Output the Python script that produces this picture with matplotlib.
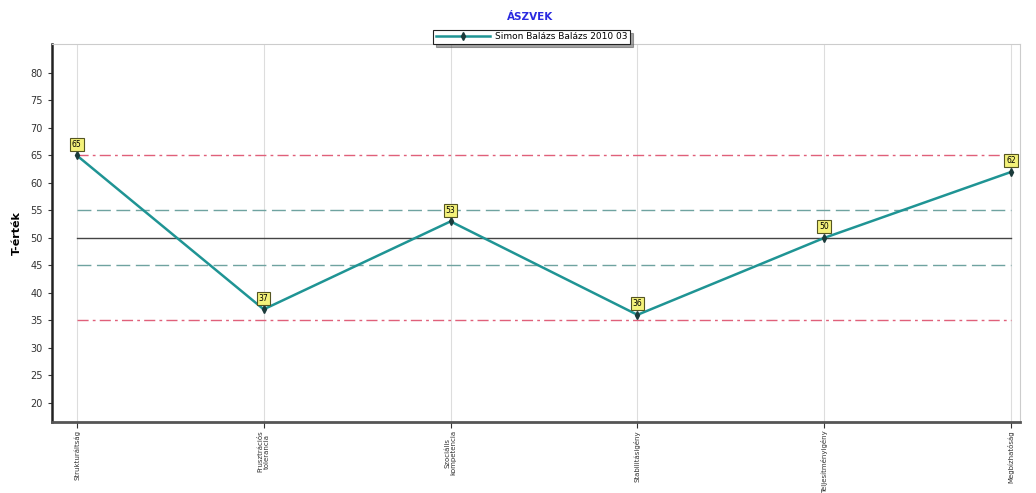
import numpy as np
import matplotlib.pyplot as plt

# Adatok
categories = ['Strukturáltság', 'Frusztrációs\ntolerancia', 'Szociális\nkompetencia',
              'Stabilitásigény', 'Teljesítményigény', 'Megbízhatóság']
values = [65, 37, 53, 36, 50, 62]
series_name = 'Simon Balázs Balázs 2010 03'
title = 'ÁSZVEK'
ylabel = 'T-érték'
yticks = list(range(20, 85, 5))

# Referenciavonalak: (érték, szín, vonalstílus)
ref_lines = [
    (65, '#e0607a', (0, (8, 3, 2, 3))),
    (35, '#e0607a', (0, (8, 3, 2, 3))),
    (55, '#6fa3a0', (0, (10, 4))),
    (45, '#6fa3a0', (0, (10, 4))),
    (50, '#444444', '-'),
]

x = np.arange(len(categories))

fig = plt.figure(figsize=(10.36, 4.93), dpi=100)
ax = fig.add_axes([0.050, 0.144, 0.935, 0.767])

for xi in x:
    ax.axvline(xi, color='#dddddd', linewidth=0.8, zorder=0)

for val, col, ls in ref_lines:
    ax.plot([x[0], x[-1]], [val, val], color=col, linestyle=ls, linewidth=1.0, zorder=1)

line, = ax.plot(x, values, color='#1f9494', linewidth=1.8, marker='d', markersize=4,
                markerfacecolor='#1b3b3b', markeredgecolor='#1b3b3b', zorder=3,
                label=series_name)

for xi, v in zip(x, values):
    ax.annotate(str(v), (xi, v), xytext=(0, 8), textcoords='offset points',
                ha='center', va='center', fontsize=5.5,
                bbox=dict(boxstyle='square,pad=0.25', facecolor='#f4f27a',
                          edgecolor='#555522', linewidth=0.8), zorder=4)

ax.set_xlim(-0.134, 5.05)
ax.set_ylim(16.5, 85.3)
ax.set_yticks(yticks)
ax.set_xticks(x)
ax.set_xticklabels(categories, rotation=90, fontsize=5, va='top', linespacing=1.0)
ax.tick_params(axis='y', labelsize=7, colors='#333333', length=3)
ax.tick_params(axis='x', length=4, colors='#333333', pad=2)
ax.set_ylabel(ylabel, fontsize=8, fontweight='bold', labelpad=6)

for side in ['top', 'right']:
    ax.spines[side].set_color('#cccccc')
    ax.spines[side].set_linewidth(0.8)
ax.spines['left'].set_linewidth(1.8)
ax.spines['left'].set_color('#222222')
ax.spines['bottom'].set_linewidth(2.0)
ax.spines['bottom'].set_color('#555555')

fig.text(0.512, 0.965, title, ha='center', va='center', fontsize=7.5,
         fontweight='bold', color='#2a2ae0')

leg = fig.legend(handles=[line], loc='center', bbox_to_anchor=(0.513, 0.925),
                 fontsize=6.5, frameon=True, fancybox=False, shadow=True,
                 handlelength=6, borderpad=0.3, handletextpad=0.5)
leg.get_frame().set_edgecolor('#222222')
leg.get_frame().set_linewidth(0.8)

fig.savefig('out.png', dpi=100)
